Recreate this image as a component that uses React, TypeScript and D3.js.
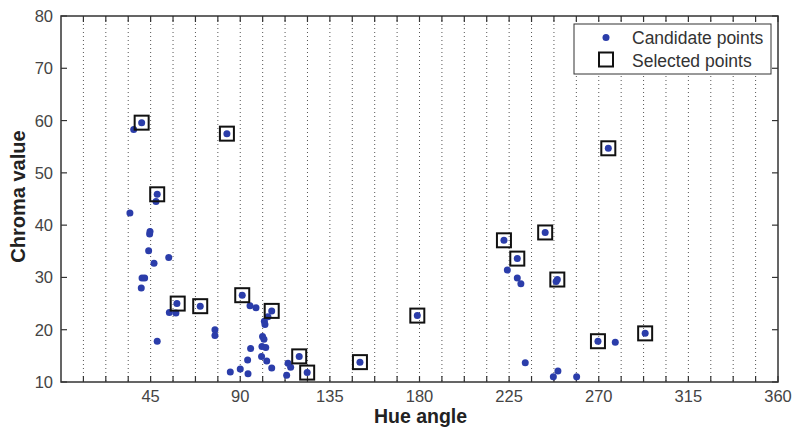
import React, { useEffect, useRef } from 'react';
import * as d3 from 'd3';

// Candidate points (hue angle, chroma value)
const candidateHue = [
  36.5, 40.5, 83.3, 48.3, 47.7, 34.6, 44.7, 44.5, 44.0, 46.7, 54.1, 40.7, 42.0, 40.3,
  58.2, 54.4, 57.7, 69.9, 77.3, 77.3, 48.3, 91.0, 94.9, 97.9, 105.8, 103.9, 102.1, 102.4,
  101.2, 101.9, 100.9, 102.8, 95.2, 100.7, 103.3, 93.7, 105.8, 90.0, 85.0, 93.9, 114.0,
  115.3, 113.3, 119.6, 123.6, 150.1, 178.9, 222.4, 229.1, 224.1, 229.1, 230.9, 243.1,
  249.2, 248.6, 233.1, 249.5, 247.2, 258.9, 269.6, 278.3, 293.3, 274.8
];
const candidateChroma = [
  58.3, 59.6, 57.5, 45.9, 44.5, 42.3, 38.8, 38.3, 35.1, 32.7, 33.8, 29.9, 29.9, 28.0,
  25.0, 23.3, 23.2, 24.5, 20.0, 18.9, 17.8, 26.6, 24.6, 24.2, 23.6, 22.5, 21.6, 21.0,
  18.7, 18.2, 16.8, 16.6, 16.4, 14.9, 14.0, 14.2, 12.7, 12.5, 11.9, 11.6, 13.6,
  12.8, 11.3, 14.9, 11.8, 13.8, 22.7, 37.1, 33.6, 31.4, 29.9, 28.8, 38.6,
  29.6, 29.2, 13.7, 12.1, 11.0, 11.0, 17.8, 17.6, 19.3, 54.7
];

// Selected points (hue angle, chroma value)
const selectedHue = [
  40.5, 83.3, 48.3, 58.6, 69.9, 91.0, 105.8, 119.6, 123.6, 150.1, 178.9, 222.4, 229.1,
  243.1, 249.2, 269.6, 293.3, 274.8
];
const selectedChroma = [
  59.6, 57.5, 45.9, 25.0, 24.5, 26.6, 23.6, 14.9, 11.8, 13.8, 22.7, 37.1, 33.6,
  38.6, 29.6, 17.8, 19.3, 54.7
];

const xTicks = [45, 90, 135, 180, 225, 270, 315, 360];
const xGrid = d3.range(11.25, 360, 11.25);
const yTicks = [10, 20, 30, 40, 50, 60, 70, 80];

const App = () => {
  const svgRef = useRef(null);

  useEffect(() => {
    document.body.style.margin = '0';
    const svg = d3.select(svgRef.current);
    svg.selectAll('*').remove();

    const margin = { top: 16, right: 16, bottom: 46, left: 61 };
    const W = 794;
    const H = 428;
    const width = W - margin.left - margin.right;
    const height = H - margin.top - margin.bottom;
    const font = 'Liberation Sans, Arial, sans-serif';
    const axisColor = '#333';

    const g = svg.append('g').attr('transform', `translate(${margin.left},${margin.top})`);

    const x = d3.scaleLinear().domain([0, 360]).range([0, width]);
    const y = d3.scaleLinear().domain([10, 80]).range([height, 0]);

    // Dotted vertical grid
    g.selectAll('line.grid')
      .data(xGrid)
      .enter()
      .append('line')
      .attr('class', 'grid')
      .attr('x1', d => x(d))
      .attr('x2', d => x(d))
      .attr('y1', 0)
      .attr('y2', height)
      .attr('stroke', '#555')
      .attr('stroke-width', 1)
      .attr('stroke-dasharray', '1 3');

    // Tick marks on all sides (inside)
    const tl = 6;
    xGrid.concat([360]).forEach(d => {
      g.append('line').attr('x1', x(d)).attr('x2', x(d)).attr('y1', height).attr('y2', height - tl)
        .attr('stroke', axisColor).attr('stroke-width', 1.2);
      g.append('line').attr('x1', x(d)).attr('x2', x(d)).attr('y1', 0).attr('y2', tl)
        .attr('stroke', axisColor).attr('stroke-width', 1.2);
    });
    yTicks.forEach(d => {
      g.append('line').attr('x1', 0).attr('x2', tl).attr('y1', y(d)).attr('y2', y(d))
        .attr('stroke', axisColor).attr('stroke-width', 1.2);
      g.append('line').attr('x1', width).attr('x2', width - tl).attr('y1', y(d)).attr('y2', y(d))
        .attr('stroke', axisColor).attr('stroke-width', 1.2);
    });

    // Box
    g.append('rect')
      .attr('x', 0).attr('y', 0).attr('width', width).attr('height', height)
      .attr('fill', 'none').attr('stroke', axisColor).attr('stroke-width', 1.5);

    // Tick labels
    g.selectAll('text.xt')
      .data(xTicks)
      .enter()
      .append('text')
      .attr('x', d => x(d))
      .attr('y', height + 19.5)
      .attr('text-anchor', 'middle')
      .style('font-family', font)
      .style('font-size', '16.5px')
      .style('fill', '#444')
      .text(d => d);

    g.selectAll('text.yt')
      .data(yTicks)
      .enter()
      .append('text')
      .attr('x', -8)
      .attr('y', d => y(d) + 6)
      .attr('text-anchor', 'end')
      .style('font-family', font)
      .style('font-size', '16.5px')
      .style('fill', '#444')
      .text(d => d);

    // Axis labels
    g.append('text')
      .attr('x', width / 2 + 1)
      .attr('y', height + 40.5)
      .attr('text-anchor', 'middle')
      .style('font-family', font)
      .style('font-size', '19.5px')
      .style('font-weight', 'bold')
      .style('fill', '#222')
      .text('Hue angle');

    g.append('text')
      .attr('transform', 'rotate(-90)')
      .attr('x', -(height / 2) + 2.5)
      .attr('y', -36)
      .attr('text-anchor', 'middle')
      .style('font-family', font)
      .style('font-size', '20px')
      .style('font-weight', 'bold')
      .style('fill', '#222')
      .text('Chroma value');

    // Candidate points
    const dotColor = '#2b3daa';
    g.selectAll('circle.cand')
      .data(candidateHue.map((h, i) => [h, candidateChroma[i]]))
      .enter()
      .append('circle')
      .attr('cx', d => x(d[0]))
      .attr('cy', d => y(d[1]))
      .attr('r', 3.5)
      .attr('fill', dotColor);

    // Selected points
    const s = 14;
    g.selectAll('rect.sel')
      .data(selectedHue.map((h, i) => [h, selectedChroma[i]]))
      .enter()
      .append('rect')
      .attr('x', d => x(d[0]) - s / 2)
      .attr('y', d => y(d[1]) - s / 2)
      .attr('width', s)
      .attr('height', s)
      .attr('fill', 'none')
      .attr('stroke', '#111')
      .attr('stroke-width', 2);

    // Legend
    const lx = 574 - margin.left;
    const ly = 24 - margin.top;
    const leg = g.append('g').attr('transform', `translate(${lx},${ly})`);
    leg.append('rect')
      .attr('width', 197).attr('height', 50)
      .attr('fill', 'white').attr('stroke', axisColor).attr('stroke-width', 1);
    leg.append('circle').attr('cx', 32).attr('cy', 13.5).attr('r', 3.5).attr('fill', dotColor);
    leg.append('rect').attr('x', 25).attr('y', 28.5).attr('width', 14).attr('height', 14)
      .attr('fill', 'none').attr('stroke', '#111').attr('stroke-width', 2);
    leg.append('text').attr('x', 58).attr('y', 20)
      .style('font-family', font).style('font-size', '17.5px').style('fill', '#333')
      .text('Candidate points');
    leg.append('text').attr('x', 58).attr('y', 42.5)
      .style('font-family', font).style('font-size', '17.5px').style('fill', '#333')
      .text('Selected points');
  }, []);

  return <svg ref={svgRef} width={794} height={428} style={{ display: 'block' }}></svg>;
};

export default App;
